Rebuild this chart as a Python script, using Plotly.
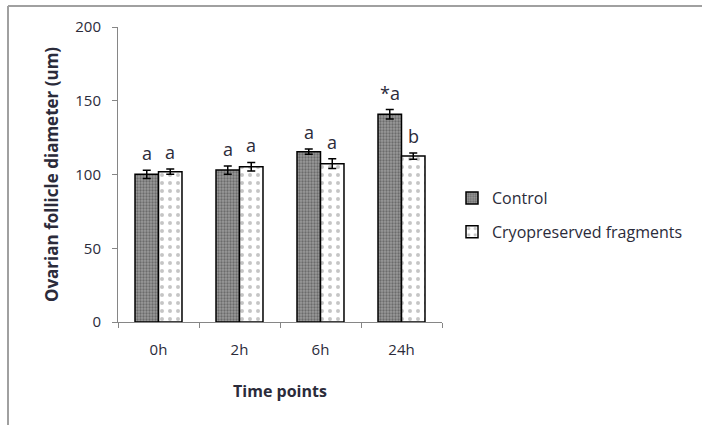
import plotly.graph_objects as go

# Follicle diameter by time point
time_points = ["0h", "2h", "6h", "24h"]
control = [100.1, 103.0, 115.5, 140.8]
control_err = [2.8, 2.8, 1.8, 3.2]
cryo = [101.9, 105.3, 107.3, 112.5]
cryo_err = [1.8, 2.9, 3.3, 2.1]
control_labels = ["a", "a", "a", "*a"]
cryo_labels = ["a", "a", "a", "b"]

FONT = "'Open Sans', Lato, sans-serif"
TXT = "#2b2b3a"

fig = go.Figure()
fig.add_bar(
    x=time_points, y=control, name="Control", legendgroup="c",
    error_y=dict(type="data", array=control_err, color="black", thickness=1.5, width=4),
    marker=dict(color="#8a8a8a", line=dict(color="black", width=1.5),
                pattern=dict(shape=".", fgcolor="#3c3c3c", bgcolor="#9a9a9a", size=3, solidity=0.45)),
)
fig.add_bar(
    x=time_points, y=cryo, name="Cryopreserved fragments", legendgroup="r",
    error_y=dict(type="data", array=cryo_err, color="black", thickness=1.5, width=4),
    marker=dict(color="white", line=dict(color="black", width=1.5),
                pattern=dict(shape=".", fgcolor="#8c8c8c", bgcolor="white", size=8, solidity=0.2)),
)

# significance letters above each bar
half = 11.75
for tp, v, e, lab in zip(time_points, control, control_err, control_labels):
    fig.add_annotation(x=tp, y=v + e, text=lab, xref="x", yref="y", showarrow=False,
                       yanchor="bottom", xshift=-half, yshift=3,
                       font=dict(family=FONT, size=18, color=TXT))
for tp, v, e, lab in zip(time_points, cryo, cryo_err, cryo_labels):
    fig.add_annotation(x=tp, y=v + e, text=lab, xref="x", yref="y", showarrow=False,
                       yanchor="bottom", xshift=half, yshift=3,
                       font=dict(family=FONT, size=18, color=TXT))

# outer frame lines (left and top)
W, H = 702, 425
L, R, T, B = 118, 260, 27, 103
pw, ph = W - L - R, H - T - B
def px(xp):
    return (xp - L) / pw
def py(yp):
    return (H - B - yp) / ph
fig.add_shape(type="line", xref="paper", yref="paper", x0=px(8), x1=px(8), y0=py(6), y1=py(425),
              line=dict(color="#a0a0a0", width=2))
fig.add_shape(type="line", xref="paper", yref="paper", x0=px(8), x1=px(702), y0=py(6), y1=py(6),
              line=dict(color="#a0a0a0", width=2))

fig.update_layout(
    width=W, height=H,
    margin=dict(l=L, r=R, t=T, b=B),
    paper_bgcolor="white", plot_bgcolor="white",
    barmode="group", bargap=0.42, bargroupgap=0,
    font=dict(family=FONT, size=15, color=TXT),
    legend=dict(x=px(452), y=py(181), xanchor="left", yanchor="top",
                tracegroupgap=10, font=dict(size=16, color=TXT), bgcolor="rgba(0,0,0,0)"),
    xaxis=dict(
        showline=True, linecolor="#868686", linewidth=1,
        ticks="outside", tickson="boundaries", ticklen=5, tickcolor="#868686",
        showgrid=False, tickfont=dict(size=15), ticklabelstandoff=14,
        title=dict(text="<b>Time points</b>", font=dict(size=16), standoff=27),
    ),
    yaxis=dict(
        range=[0, 200], tickvals=[0, 50, 100, 150, 200],
        showline=True, linecolor="#868686", linewidth=1,
        ticks="outside", ticklen=5, tickcolor="#868686",
        showgrid=False, zeroline=False, tickfont=dict(size=15), ticklabelstandoff=8,
        title=dict(text="<b>Ovarian follicle diameter (um)</b>", font=dict(size=17), standoff=12),
    ),
)

fig.write_html("out.html")
